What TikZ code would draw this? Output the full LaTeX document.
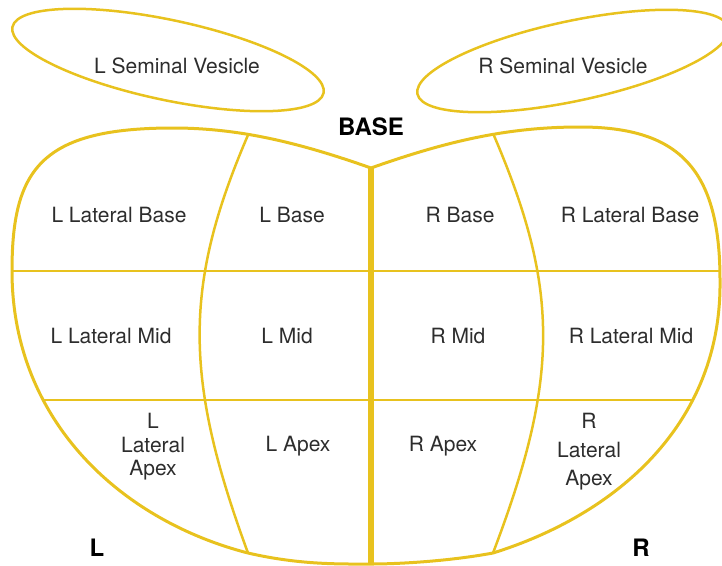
\documentclass[tikz,border=0pt]{standalone}
\usepackage{fontspec}
\setmainfont{TeX Gyre Heros}
\usetikzlibrary{shapes.geometric}

\definecolor{gland}{RGB}{232,194,30}
\definecolor{ink}{RGB}{45,45,45}

\begin{document}
\begin{tikzpicture}[x=1pt, y=-1pt,
        vesicle/.style={draw=gland, line width=2.5pt, ellipse, inner sep=0pt,
                        minimum width=318pt, minimum height=80pt},
        zone/.style={text=ink, font=\fontsize{21}{24}\selectfont, align=center, inner sep=0pt},
        side/.style={text=black, font=\fontsize{24}{28}\selectfont\bfseries, inner sep=0pt},
        wall/.style={draw=gland, line width=3pt},
        split/.style={draw=gland, line width=2.5pt}]
        \useasboundingbox (0,0) rectangle (722,565);

        % seminal vesicles
        \node[vesicle, rotate=-12] (lsv) at (168,60) {};
        \node[vesicle, rotate=12] (rsv) at (573,61) {};
        \node[zone] (lsvtext) at (177,66) {L Seminal Vesicle};
        \node[zone] (rsvtext) at (563,66) {R Seminal Vesicle};

        % gland outline
        \coordinate (notch) at (371,168);
        \coordinate (apex) at (371,564);
        \def\glandpath{(notch) .. controls (300,143) and (240,128) .. (173,128)
                .. controls (40,128) and (12,170) .. (12,271)
                .. controls (12,420) and (120,520) .. (248,553)
                .. controls (300,565) and (340,564) .. (apex)
                .. controls (400,564) and (450,561) .. (493,553)
                .. controls (615,515) and (722,425) .. (720,280)
                .. controls (720,170) and (680,127) .. (580,127)
                .. controls (510,127) and (450,140) .. (notch)}

        \begin{scope}
            \clip \glandpath;
            \draw[split] (0,271) -- (722,271);
            \draw[split] (0,400) -- (722,400);
            \draw[split] (248,135) .. controls (183.5,285) and (183.5,378) .. (248,553);
            \draw[split] (492,131) .. controls (560,288) and (560,377) .. (493,553);
            \draw[draw=gland, line width=5.5pt] (notch) -- (apex);
        \end{scope}
        \draw[wall] \glandpath;

        % zones
        \node[zone] (llb) at (119,215) {L Lateral Base};
        \node[zone] (lb) at (292,215) {L Base};
        \node[zone] (rb) at (460,215) {R Base};
        \node[zone] (rlb) at (630,215) {R Lateral Base};

        \node[zone] (llm) at (111,336) {L Lateral Mid};
        \node[zone] (lm) at (287,336) {L Mid};
        \node[zone] (rm) at (458,336) {R Mid};
        \node[zone] (rlm) at (631,336) {R Lateral Mid};

        \node[zone, font=\fontsize{21}{23.5}\selectfont] (lla) at (153,447) {L\\Lateral\\Apex};
        \node[zone] (la) at (298,446) {L Apex};
        \node[zone] (ra) at (443,446) {R Apex};
        \node[zone, font=\fontsize{21}{28.5}\selectfont] (rla) at (589,452) {R\\Lateral\\Apex};

        % orientation
        \node[side] (base) at (371,127) {BASE};
        \node[side] (lside) at (97,548) {L};
        \node[side] (rside) at (641,548) {R};
\end{tikzpicture}
\end{document}
